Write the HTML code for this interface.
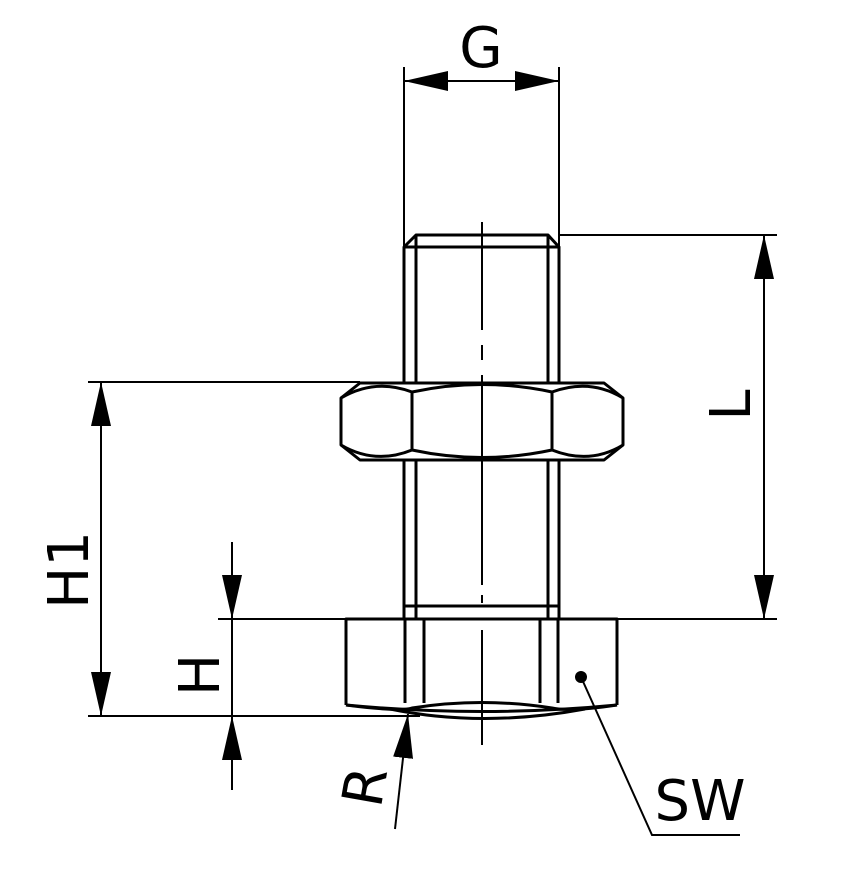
<!DOCTYPE html>
<html><head><meta charset="utf-8"><style>html,body{margin:0;padding:0;background:#fff}svg{display:block}</style></head>
<body>
<svg width="852" height="882" viewBox="0 0 852 882" xmlns="http://www.w3.org/2000/svg">
<defs>
<marker id="a" viewBox="0 0 44 20" refX="44" refY="10" markerWidth="44" markerHeight="20" markerUnits="userSpaceOnUse" orient="auto"><path d="M0,0 L44,10 L0,20 z" fill="#000"/></marker>
</defs>
<g fill="none" stroke="#000" stroke-width="3" stroke-linejoin="round">
<!-- shaft -->
<line x1="404" y1="247" x2="404" y2="619"/>
<line x1="559" y1="247" x2="559" y2="619"/>
<line x1="416" y1="235" x2="416" y2="619"/>
<line x1="548" y1="235" x2="548" y2="619"/>
<path d="M404,247 L416,235 L548,235 L559,247 Z"/>
<line x1="404" y1="606" x2="559" y2="606"/>
<!-- nut -->
<path d="M360,383 L604,383 L623,398 L623,445 L604,460 L360,460 L341,445 L341,398 Z" fill="#fff"/>
<path d="M341,398 Q375,378 412,392 Q482,377 552,392 Q590,378 623,398"/>
<path d="M341,445 Q375,465 412,450 Q482,465 552,450 Q590,465 623,445"/>
<line x1="412" y1="392" x2="412" y2="450"/>
<line x1="552" y1="392" x2="552" y2="450"/>
<!-- bottom hex -->
<path d="M346,705 L346,619 L617,619 L617,705"/>
<path d="M346,705 Q482,718 617,705"/>
<path d="M346,705 Q400,712 412,708 Q482,697 552,708 Q570,712 617,705"/>
<path d="M390,709 Q482,728 585,709"/>
<line x1="405" y1="619" x2="405" y2="703"/>
<line x1="424" y1="619" x2="424" y2="703"/>
<line x1="540" y1="619" x2="540" y2="703"/>
<line x1="558" y1="619" x2="558" y2="703"/>
</g>
<g stroke="#000" stroke-width="2" fill="none">
<!-- centerline -->
<line x1="482" y1="222" x2="482" y2="330"/>
<line x1="482" y1="345" x2="482" y2="360"/>
<line x1="482" y1="375" x2="482" y2="585"/>
<line x1="482" y1="595" x2="482" y2="603"/>
<line x1="482" y1="630" x2="482" y2="745"/>
<!-- G -->
<line x1="404" y1="67" x2="404" y2="247"/>
<line x1="559" y1="67" x2="559" y2="247"/>
<line x1="482" y1="81" x2="404" y2="81" marker-end="url(#a)"/>
<line x1="482" y1="81" x2="559" y2="81" marker-end="url(#a)"/>
<!-- L -->
<line x1="559" y1="235" x2="777" y2="235"/>
<line x1="617" y1="619" x2="777" y2="619"/>
<line x1="764" y1="420" x2="764" y2="235" marker-end="url(#a)"/>
<line x1="764" y1="420" x2="764" y2="619" marker-end="url(#a)"/>
<!-- H1 -->
<line x1="88" y1="382" x2="360" y2="382"/>
<line x1="88" y1="716" x2="420" y2="716"/>
<line x1="101" y1="550" x2="101" y2="382" marker-end="url(#a)"/>
<line x1="101" y1="550" x2="101" y2="716" marker-end="url(#a)"/>
<!-- H -->
<line x1="218" y1="619" x2="346" y2="619"/>
<line x1="232" y1="542" x2="232" y2="619" marker-end="url(#a)"/>
<line x1="232" y1="790" x2="232" y2="716" marker-end="url(#a)"/>
<line x1="232" y1="619" x2="232" y2="716"/>
<!-- R -->
<line x1="395" y1="829" x2="408" y2="714" marker-end="url(#a)"/>
<!-- SW -->
<polyline points="581,677 652,835 740,835"/>
</g>
<circle cx="581" cy="677" r="6" fill="#000"/>
<g font-family="'DejaVu Sans','Liberation Sans',sans-serif" font-size="56" fill="#000" text-anchor="middle" font-weight="normal">
<text x="481" y="67">G</text>
<text transform="translate(750,405) rotate(-90)">L</text>
<text transform="translate(88,570) rotate(-90)">H1</text>
<text transform="translate(219,675) rotate(-90)">H</text>
<text transform="translate(384,790) rotate(-80)">R</text>
<text x="700" y="820">SW</text>
</g>
</svg>
</body></html>
